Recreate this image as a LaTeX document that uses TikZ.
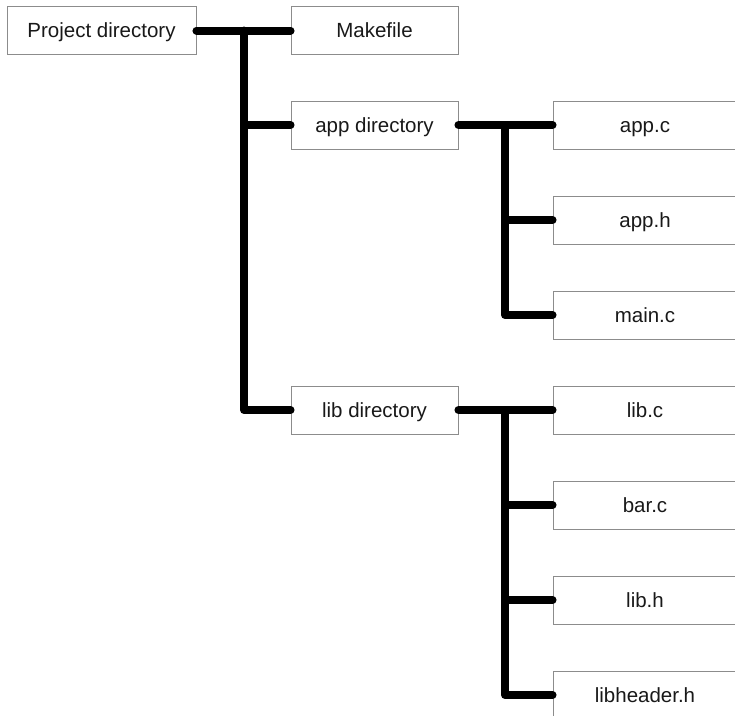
\documentclass[tikz,border=0pt]{standalone}
\usepackage{fontspec}
\setmainfont{Liberation Sans}
\begin{document}
\begin{tikzpicture}[x=1pt,y=-1pt,
  filebox/.style={draw=black!45, line width=0.9pt, fill=white, inner sep=0pt,
    minimum height=48pt, text height=15pt, text depth=0.4pt,
    font=\fontsize{20.5}{24}\selectfont, text=black!90},
  dirbox/.style={filebox, minimum width=167pt},
  leafbox/.style={filebox, minimum width=184pt},
  link/.style={line width=8pt, line cap=round, line join=round}]
\useasboundingbox (0,0) rectangle (735,715);
\begin{scope}
\clip (0,0) rectangle (735,715);
% boxes
\node[filebox, minimum width=189pt] (proj) at (101.5,30.5) {Project directory};
\node[dirbox] (make) at (374.5,30.5) {Makefile};
\node[dirbox] (appdir) at (374.5,125) {app directory};
\node[dirbox] (libdir) at (374.5,410) {lib directory};
\node[leafbox] (appc) at (645,125) {app.c};
\node[leafbox] (apph) at (645,220) {app.h};
\node[leafbox] (mainc) at (645,315) {main.c};
\node[leafbox] (libc) at (645,410) {lib.c};
\node[leafbox] (barc) at (645,505) {bar.c};
\node[leafbox] (libh) at (645,600) {lib.h};
\node[leafbox] (libhdr) at (645,695) {libheader.h};
% trunk junctions
\coordinate (j0) at (244,30.5);
\coordinate (j1) at (505,125);
\coordinate (j2) at (505,410);
% connectors
\draw[link] (proj.east) -- (make.west);
\draw[link] (j0) |- (libdir.west);
\draw[link] (j0 |- appdir.west) -- (appdir.west);
\draw[link] (appdir.east) -- (appc.west);
\draw[link] (j1) |- (mainc.west);
\draw[link] (j1 |- apph.west) -- (apph.west);
\draw[link] (libdir.east) -- (libc.west);
\draw[link] (j2) |- (libhdr.west);
\draw[link] (j2 |- barc.west) -- (barc.west);
\draw[link] (j2 |- libh.west) -- (libh.west);
\end{scope}
\end{tikzpicture}
\end{document}
